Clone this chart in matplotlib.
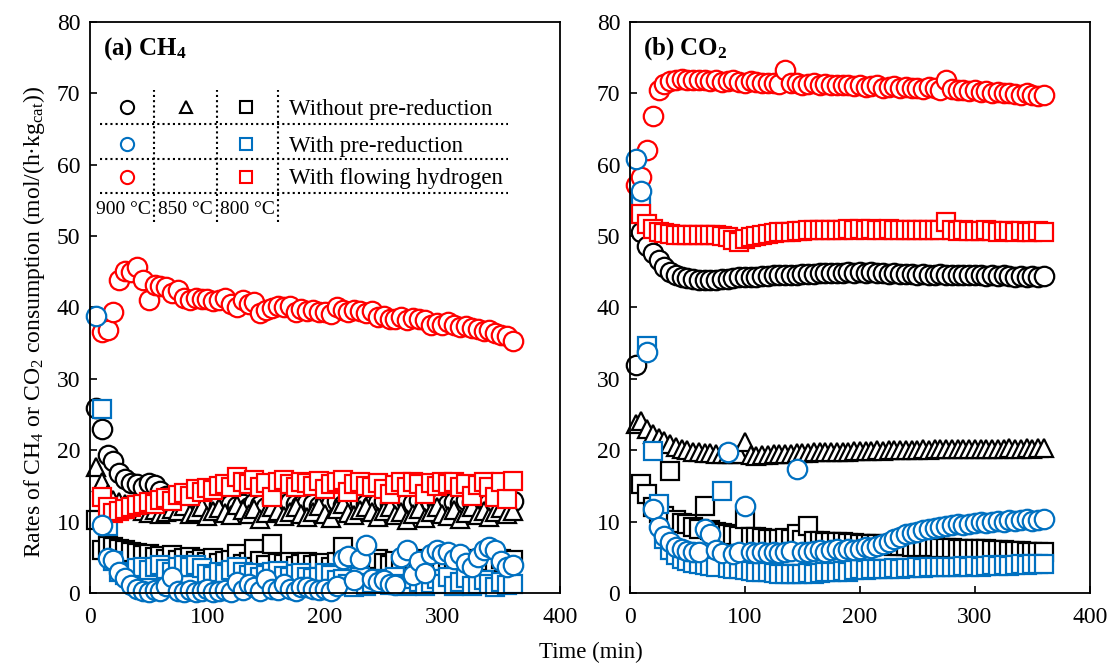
import numpy as np
import matplotlib
matplotlib.use('Agg')
import matplotlib.pyplot as plt

plt.rcParams['font.family'] = ['Liberation Serif', 'DejaVu Serif']
plt.rcParams['mathtext.fontset'] = 'custom'
plt.rcParams['mathtext.rm'] = 'Liberation Serif'
plt.rcParams['mathtext.it'] = 'Liberation Serif:italic'
plt.rcParams['mathtext.bf'] = 'Liberation Serif:bold'

nan = np.nan

# sampling times (min)
time_min = np.arange(5, 365, 5)

# ---- (a) CH4 consumption rate, mol/(h kg_cat) ----
ch4_none_900 = [25.9, 22.9, 19.3, 18.5, 16.8, 16.0, 15.4, 15.2, 14.9, 15.4, 15.1, 14.3,
                13.6, 13.2, 12.8, 12.6, 12.5, 12.9, 12.4, 12.2, 12.6, 12.3, 12.0, 12.4,
                12.2, 12.5, 12.1, 12.6, 12.3, 12.0, 12.7, 12.4, 12.2, 12.8, 12.5, 12.3,
                12.6, 12.4, 12.2, 12.7, 12.5, 12.9, 12.3, 12.6, 12.4, 12.8, 12.5, 12.3,
                12.6, 12.9, 12.4, 12.7, 12.5, 12.8, 12.6, 13.0, 12.4, 12.7, 12.6, 12.9,
                12.5, 12.8, 12.6, 13.0, 12.7, 12.5, 12.9, 12.6, 12.8, 12.7, 13.0, 12.9]
ch4_none_850 = [17.6, 15.5, 13.8, 13.0, 12.8, 12.5, 12.0, 11.8, 11.5, 11.2, 11.6, 11.0,
                11.3, 11.8, 11.5, 12.2, 11.0, 11.4, 12.0, 10.8, 11.5, 11.9, 11.2, 10.9,
                12.3, 11.6, 11.0, 11.8, 10.4, 11.2, 12.0, 11.5, 10.8, 11.3, 12.1, 11.0,
                10.6, 11.4, 12.2, 11.1, 10.5, 11.7, 12.4, 11.2, 10.9, 11.6, 12.0, 11.3,
                10.7, 11.5, 12.1, 10.9, 11.4, 10.2, 11.0, 11.8, 10.5, 11.3, 12.0, 11.1,
                10.8, 11.6, 10.4, 11.2, 12.0, 10.9, 11.5, 10.6, 11.3, 11.9, 11.0, 11.5]
ch4_none_800 = [10.2, 6.0, 6.6, 6.4, 6.2, 6.0, 5.8, 5.6, 5.3, 5.5, 5.0, 5.2,
                4.8, 5.3, 4.6, 4.9, 5.0, 4.5, 4.8, 4.4, 4.9, 4.2, 4.5, 4.6,
                5.5, 4.0, 4.3, 6.1, 4.5, 3.9, 6.8, 4.2, 4.0, 4.4, 3.8, 4.1,
                4.3, 3.9, 4.0, 4.2, 3.7, 4.4, 6.5, 4.0, 3.8, 4.1, 4.3, 4.0,
                4.8, 4.2, 3.9, 4.5, 4.0, 4.3, 4.7, 4.1, 4.4, 3.9, 4.6, 4.2,
                4.5, 4.3, 4.0, 4.6, 4.4, 4.8, 4.2, 4.5, 4.3, 4.7, 4.5, 4.6]
ch4_pre_900 = [38.8, 9.5, 4.9, 4.6, 3.0, 2.1, 1.1, 0.6, 0.3, 0.2, 0.4, 0.3,
               1.0, 2.3, 0.3, 0.2, 0.4, 0.2, 0.3, 0.5, 0.2, 0.3, 0.4, 0.2,
               1.5, 0.4, 1.3, 0.8, 0.3, 1.9, 0.6, 0.4, 1.2, 0.5, 0.3, 0.8,
               0.9, 0.6, 0.4, 0.5, 0.3, 1.0, 4.8, 5.2, 1.8, 4.8, 6.7, 2.0,
               1.5, 1.8, 1.2, 1.1, 5.1, 6.0, 2.5, 4.5, 2.8, 5.5, 6.0, 5.5,
               5.8, 4.8, 5.5, 4.2, 3.7, 5.0, 6.0, 6.5, 6.0, 4.5, 3.7, 3.9]
ch4_pre_800 = [nan, 25.8, 9.4, 4.5, 3.0, 2.5, 2.8, 3.5, 3.7, 3.2, 3.6, 3.9,
               3.4, 3.0, 3.6, 3.9, 3.7, 3.9, 3.5, 2.6, 2.4, 3.0, 2.7, 3.2,
               3.6, 3.0, 2.5, 2.8, 2.2, 2.5, 2.9, 3.1, 2.4, 2.2, 2.6, 2.8,
               2.3, 2.1, 2.3, 2.8, 2.5, 1.8, 2.0, 1.2, 0.8, 2.3, 1.0, 1.4,
               1.9, 2.0, 1.1, 2.2, 1.3, 1.0, 2.0, 1.5, 1.0, 1.4, 1.9, 1.2,
               2.2, 1.0, 1.6, 2.1, 1.0, 1.3, 1.8, 1.2, 0.9, 1.5, 1.1, 1.3]
ch4_h2_900 = [nan, 36.6, 36.8, 39.3, 43.8, 45.1, 45.0, 45.6, 43.9, 41.0, 43.1, 43.0,
              42.9, 42.0, 42.4, 41.3, 41.0, 41.3, 41.2, 41.2, 40.9, 41.1, 41.3, 40.5,
              40.1, 41.1, 40.5, 40.8, 39.2, 39.6, 39.9, 40.2, 40.0, 40.2, 39.3, 39.8,
              39.5, 39.6, 39.3, 39.3, 39.1, 40.0, 39.6, 39.3, 39.6, 39.5, 39.2, 39.5,
              38.6, 38.8, 38.4, 38.4, 38.6, 38.3, 38.5, 38.4, 38.2, 37.5, 37.8, 37.5,
              38.0, 37.6, 37.3, 37.4, 37.1, 37.0, 36.7, 36.9, 36.4, 36.2, 36.0, 35.3]
ch4_h2_800 = [nan, 13.5, 12.1, 11.2, 11.5, 11.8, 12.0, 12.3, 12.5, 12.8, 12.4, 13.0,
              13.3, 12.9, 13.7, 14.0, 13.6, 14.5, 14.2, 14.7, 14.4, 15.0, 15.3, 14.8,
              16.2, 15.6, 15.2, 15.8, 14.9, 15.4, 13.5, 15.5, 15.8, 15.2, 14.8, 15.6,
              15.4, 15.0, 15.7, 14.6, 15.3, 15.5, 15.8, 14.2, 15.2, 15.6, 15.0, 14.8,
              15.4, 14.5, 13.8, 15.1, 15.5, 14.9, 15.6, 15.2, 13.9, 15.4, 15.0, 15.5,
              15.2, 15.6, 14.8, 15.3, 13.6, 15.1, 15.5, 14.9, 13.5, 15.6, 13.1, 15.7]

# ---- (b) CO2 consumption rate, mol/(h kg_cat) ----
co2_none_900 = [32.0, 50.5, 48.6, 47.6, 46.6, 45.6, 45.0, 44.6, 44.3, 44.1, 44.0, 43.9,
                43.8, 43.8, 43.9, 44.0, 44.0, 44.1, 44.2, 44.2, 44.3, 44.3, 44.4, 44.4,
                44.5, 44.5, 44.6, 44.6, 44.6, 44.7, 44.7, 44.7, 44.8, 44.8, 44.8, 44.8,
                44.8, 44.9, 44.8, 44.9, 44.8, 44.9, 44.8, 44.8, 44.7, 44.8, 44.7, 44.7,
                44.7, 44.6, 44.7, 44.6, 44.6, 44.7, 44.6, 44.5, 44.6, 44.5, 44.6, 44.5,
                44.5, 44.4, 44.5, 44.4, 44.5, 44.4, 44.3, 44.4, 44.3, 44.4, 44.3, 44.4]
co2_none_850 = [23.6, 24.1, 22.9, 22.2, 21.7, 21.3, 20.9, 20.5, 20.2, 20.0, 19.8, 19.7,
                19.6, 19.6, 19.5, 19.5, 19.5, 19.4, 19.5, 21.2, 19.3, 19.2, 19.3, 19.3,
                19.4, 19.4, 19.5, 19.5, 19.6, 19.6, 19.6, 19.7, 19.7, 19.7, 19.8, 19.8,
                19.8, 19.8, 19.9, 19.9, 19.9, 19.9, 20.0, 19.9, 20.0, 20.0, 20.0, 20.0,
                20.0, 20.0, 20.1, 20.0, 20.1, 20.1, 20.1, 20.1, 20.1, 20.2, 20.1, 20.2,
                20.2, 20.1, 20.2, 20.2, 20.2, 20.3, 20.2, 20.2, 20.3, 20.2, 20.3, 20.3]
co2_none_800 = [nan, 15.3, 13.8, 12.0, 11.2, 10.8, 17.1, 10.2, 9.8, 9.6, 9.3, 9.0,
                12.2, 8.8, 8.6, 8.4, 8.3, 8.1, 8.0, 10.3, 7.9, 7.8, 7.7, 7.6,
                7.6, 7.5, 7.7, 7.5, 8.2, 7.4, 9.4, 7.3, 7.3, 7.2, 7.2, 7.1,
                7.1, 7.0, 7.0, 6.9, 6.9, 6.8, 6.8, 6.7, 6.7, 6.6, 6.6, 6.6,
                6.5, 6.5, 6.4, 6.4, 6.4, 6.3, 6.3, 6.3, 6.2, 6.2, 6.2, 6.1,
                6.1, 6.1, 6.0, 6.0, 6.0, 5.9, 5.9, 5.9, 5.8, 5.8, 5.8, 5.7]
co2_pre_900 = [60.8, 56.3, 33.8, 11.7, 9.2, 8.0, 7.2, 6.4, 6.1, 5.9, 5.7, 5.8,
               9.0, 8.2, 6.0, 5.6, 19.7, 5.5, 5.7, 12.2, 5.8, 5.6, 5.7, 5.6,
               5.8, 5.6, 5.7, 5.9, 17.3, 5.8, 5.7, 5.9, 6.0, 5.8, 6.0, 6.1,
               5.9, 6.1, 6.0, 6.2, 6.4, 6.3, 6.6, 6.9, 7.2, 7.6, 7.9, 8.2,
               8.4, 8.6, 8.8, 8.9, 9.1, 9.2, 9.4, 9.5, 9.6, 9.5, 9.7, 9.8,
               9.9, 9.8, 10.0, 10.1, 10.0, 10.2, 10.1, 10.2, 10.3, 10.1, 10.2, 10.4]
co2_pre_800 = [nan, 54.3, 34.6, 19.9, 12.4, 7.5, 6.0, 5.3, 4.8, 4.5, 4.2, 4.0,
               3.9, 3.8, 3.7, 14.3, 3.5, 3.4, 3.3, 3.2, 3.1, 3.0, 3.0, 2.9,
               2.8, 2.7, 2.7, 2.6, 2.7, 2.6, 2.8, 2.7, 2.8, 2.9, 3.0, 3.0,
               3.1, 3.0, 3.2, 3.3, 3.2, 3.3, 3.4, 3.3, 3.4, 3.5, 3.4, 3.5,
               3.5, 3.6, 3.5, 3.6, 3.7, 3.6, 3.7, 3.6, 3.7, 3.8, 3.7, 3.8,
               3.7, 3.8, 3.9, 3.8, 3.9, 3.8, 3.9, 4.0, 3.9, 4.1, 4.0, 4.0]
co2_h2_900 = [57.1, 58.3, 62.0, 66.8, 70.4, 71.3, 71.7, 71.9, 72.0, 71.9, 71.8, 71.9,
              71.8, 71.7, 71.8, 71.6, 71.7, 71.8, 71.6, 71.5, 71.7, 71.6, 71.5, 71.4,
              71.5, 71.3, 73.3, 71.5, 71.4, 71.2, 71.3, 71.4, 71.2, 71.3, 71.1, 71.2,
              71.1, 71.2, 71.0, 71.1, 70.9, 71.0, 71.1, 70.8, 70.9, 71.0, 70.8, 70.9,
              70.7, 70.8, 70.6, 70.9, 70.7, 70.5, 71.8, 70.6, 70.4, 70.5, 70.3, 70.4,
              70.2, 70.3, 70.1, 70.2, 70.0, 70.1, 69.9, 69.8, 70.0, 69.7, 69.6, 69.8]
co2_h2_800 = [nan, 53.1, 51.7, 51.0, 50.6, 50.4, 50.3, 50.2, 50.2, 50.1, 50.2, 50.1,
              50.2, 50.1, 50.2, 50.0, 49.9, 49.4, 49.2, 49.6, 49.8, 50.0, 50.1, 50.3,
              50.4, 50.5, 50.6, 50.6, 50.7, 50.7, 50.8, 50.8, 50.8, 50.9, 50.9, 50.9,
              50.9, 51.0, 50.9, 51.0, 50.9, 51.0, 50.9, 50.9, 51.0, 50.9, 50.9, 50.8,
              50.8, 50.9, 50.8, 50.8, 50.9, 50.8, 52.0, 50.8, 50.7, 50.8, 50.7, 50.7,
              50.7, 50.8, 50.7, 50.6, 50.7, 50.7, 50.6, 50.7, 50.6, 50.6, 50.7, 50.5]

BLACK = '#000000'
BLUE = '#0070C0'
RED = '#FF0000'
marker_size = {'o': 14, 's': 12.5, '^': 12.5}

fig = plt.figure(figsize=(11.11, 6.64), dpi=100)
ax1 = fig.add_axes([0.081, 0.107, 0.423, 0.860])
ax2 = fig.add_axes([0.567, 0.107, 0.414, 0.860])


def draw(ax, y, marker, color):
    ax.plot(time_min, y, ls='none', marker=marker, ms=marker_size[marker],
            mfc='white', mec=color, mew=1.6, clip_on=False)


# series drawn in the same order for both gases
panels = [
    (ax1, [ch4_none_900, ch4_none_850, ch4_none_800, ch4_pre_800,
           ch4_h2_900, ch4_h2_800, ch4_pre_900]),
    (ax2, [co2_none_900, co2_none_850, co2_none_800, co2_pre_800,
           co2_h2_900, co2_h2_800, co2_pre_900]),
]
styles = [('o', BLACK), ('^', BLACK), ('s', BLACK), ('s', BLUE),
          ('o', RED), ('s', RED), ('o', BLUE)]

for ax, series in panels:
    for y, (m, c) in zip(series, styles):
        draw(ax, y, m, c)
    ax.set_xlim(0, 400)
    ax.set_ylim(0, 80)
    ax.set_xticks([0, 100, 200, 300, 400])
    ax.set_yticks(range(0, 81, 10))
    ax.tick_params(direction='in', length=5, width=1.2, labelsize=17)
    ax.tick_params(axis='x', pad=10)
    ax.tick_params(axis='y', pad=7)
    for sp in ax.spines.values():
        sp.set_linewidth(1.3)

ax1.text(0.028, 0.954, r'(a) CH$_\mathbf{4}$', transform=ax1.transAxes,
         fontsize=18, fontweight='bold', va='center', ha='left')
ax2.text(0.028, 0.954, r'(b) CO$_\mathbf{2}$', transform=ax2.transAxes,
         fontsize=18, fontweight='bold', va='center', ha='left')

# key table inside panel (a)
dots = dict(color='black', lw=1.5, ls=(0, (1, 1.5)), transform=ax1.transAxes)
for x in [0.136, 0.270, 0.401]:
    ax1.plot([x, x], [0.650, 0.881], **dots)
for yy in [0.821, 0.760, 0.701]:
    ax1.plot([0.021, 0.889], [yy, yy], **dots)

key_rows = [0.851, 0.786, 0.729]
key_cols = [0.078, 0.204, 0.333]
key_marks = [
    [('o', BLACK), ('^', BLACK), ('s', BLACK)],
    [('o', BLUE), None, ('s', BLUE)],
    [('o', RED), None, ('s', RED)],
]
key_size = {'o': 9.5, 's': 8.5, '^': 9}
for yy, row in zip(key_rows, key_marks):
    for xx, mk in zip(key_cols, row):
        if mk is None:
            continue
        ax1.plot([xx], [yy], marker=mk[0], ms=key_size[mk[0]], mfc='white',
                 mec=mk[1], mew=1.5, ls='none', transform=ax1.transAxes)

key_labels = ['Without pre-reduction', 'With pre-reduction', 'With flowing hydrogen']
for yy, lab in zip(key_rows, key_labels):
    ax1.text(0.423, yy - 0.004, lab, transform=ax1.transAxes, fontsize=16.5,
             va='center', ha='left')

temp_labels = ['900 °C', '850 °C', '800 °C']
for xx, lab in zip([0.071, 0.202, 0.334], temp_labels):
    ax1.text(xx, 0.672, lab, transform=ax1.transAxes, fontsize=14,
             va='center', ha='center')

fig.text(591 / 1111, 1 - 652 / 664, 'Time (min)', fontsize=16.5,
         ha='center', va='center')
fig.text(34 / 1111, 1 - 322 / 664,
         r'Rates of CH$_4$ or CO$_2$ consumption (mol/(h·kg$_\mathrm{cat}$))',
         fontsize=17, rotation=90, ha='center', va='center')

fig.savefig('out.png', dpi=100)
